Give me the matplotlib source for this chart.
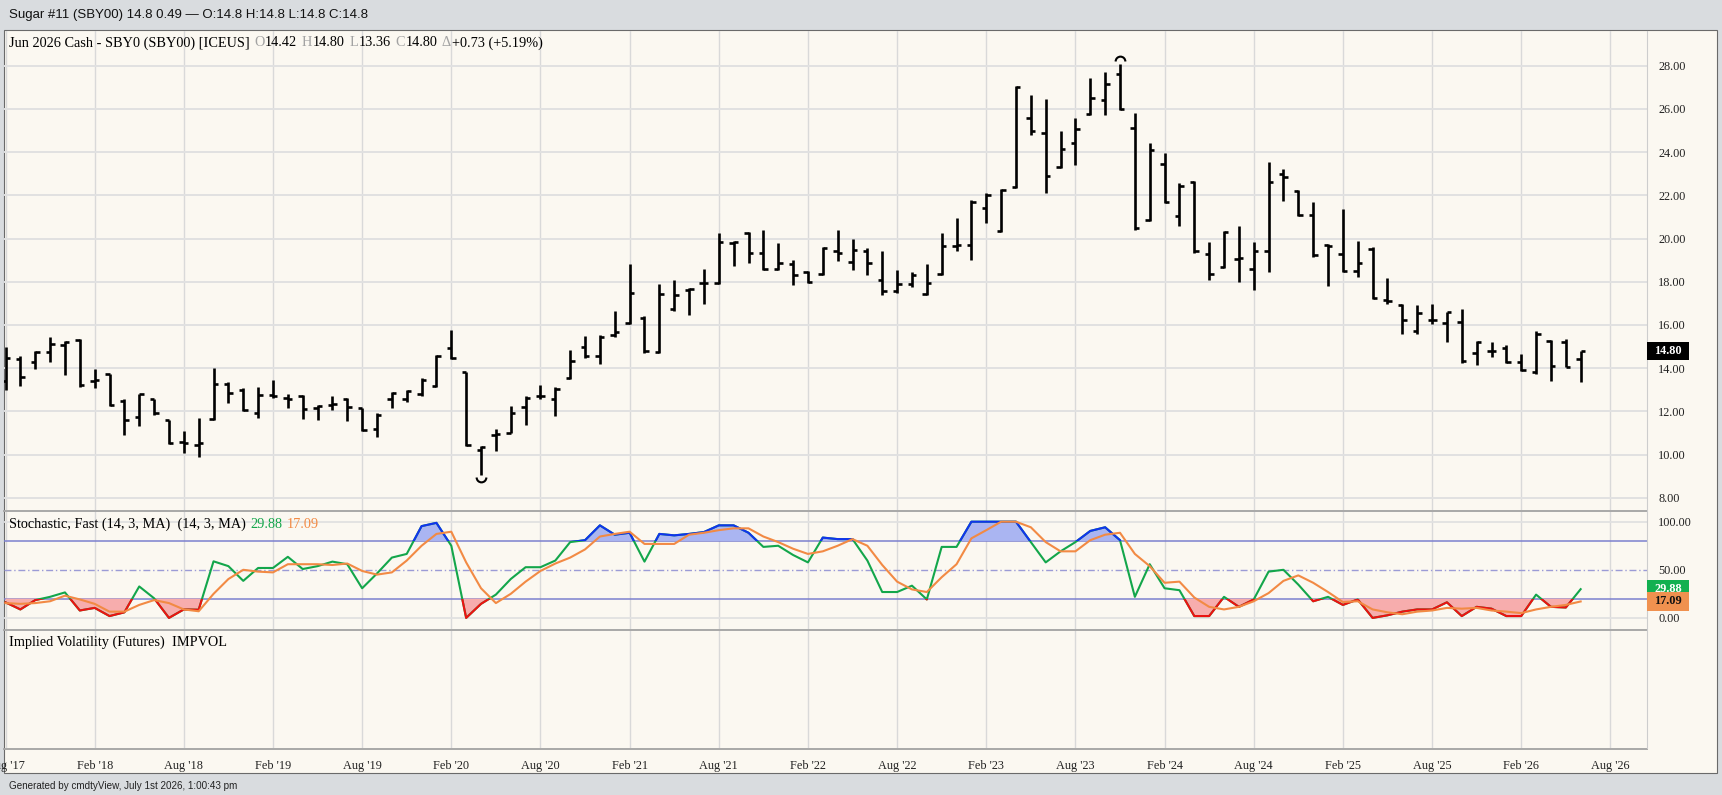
import matplotlib.pyplot as plt
from matplotlib.lines import Line2D
from matplotlib.patches import Rectangle
from matplotlib.path import Path
import numpy as np
import pandas as pd

# monthly bars, Aug 2017 .. Jun 2026
months = pd.period_range('2017-08', '2026-06', freq='M')

opens = [
    13.4, 14.4, 14.3, 14.75, 15.05, 15.3, 13.4, 13.72, 12.5, 11.75,
    12.55, 11.6, 10.6, 10.45, 11.65, 13.25, 13.0, 11.9, 12.75, 12.6,
    12.7, 12.15, 12.3, 12.55, 12.15, 11.2, 12.55, 12.55, 12.8, 13.15,
    14.95, 13.8, 10.2, 10.9, 11.0, 12.2, 12.7, 12.55, 13.55, 15.0,
    14.55, 15.55, 16.1, 16.3, 14.75, 16.75, 17.6, 17.95, 17.95, 19.8,
    20.25, 19.35, 18.6, 18.8, 18.45, 18.35, 19.4, 18.9, 19.4, 18.1,
    17.55, 17.9, 17.45, 18.35, 19.65, 19.7, 21.4, 20.35, 22.4, 25.6,
    24.9, 23.3, 24.4, 25.75, 26.4, 27.6, 25.1, 20.85, 23.45, 21.05,
    22.6, 19.3, 18.7, 19.05, 18.6, 19.4, 23.0, 22.2, 21.1, 19.7,
    19.3, 18.5, 19.5, 17.15, 16.9, 15.7, 16.25, 16.1, 16.15, 14.7,
    14.8, 14.95, 14.3, 13.8, 15.25, 15.2, 14.42]
highs = [
    14.96, 14.58, 14.8, 15.43, 15.25, 15.35, 13.95, 13.75, 12.55, 12.82,
    12.57, 11.62, 11.08, 11.7, 14.0, 13.37, 13.08, 13.13, 13.43, 12.82,
    12.74, 12.28, 12.7, 12.62, 12.17, 11.92, 12.91, 13.0, 13.54, 14.62,
    15.75, 13.83, 10.4, 11.2, 12.23, 12.69, 13.2, 13.13, 14.85, 15.5,
    15.55, 16.65, 18.8, 16.4, 17.9, 18.1, 17.7, 18.6, 20.25, 19.9,
    20.3, 20.4, 19.8, 19.0, 18.5, 19.6, 20.4, 20.0, 19.55, 19.4,
    18.55, 18.45, 18.8, 20.25, 20.95, 21.78, 22.1, 22.3, 27.05, 26.65,
    26.45, 25.0, 25.6, 27.45, 27.7, 28.1, 25.8, 24.4, 23.95, 22.55,
    22.65, 19.85, 20.35, 20.6, 19.85, 23.55, 23.2, 22.25, 21.7, 19.75,
    21.35, 19.9, 19.6, 18.15, 16.95, 16.9, 16.95, 16.62, 16.75, 15.25,
    15.2, 15.05, 14.65, 15.7, 15.3, 15.35, 14.8]
lows = [
    13.0, 13.18, 13.95, 14.28, 13.7, 13.12, 13.1, 12.25, 10.92, 11.3,
    11.85, 10.5, 10.08, 9.9, 11.6, 12.4, 12.0, 11.7, 12.62, 12.14,
    11.66, 11.6, 12.05, 11.57, 11.1, 10.81, 12.14, 12.45, 12.7, 13.13,
    14.4, 10.4, 9.05, 10.15, 10.98, 11.37, 12.55, 11.8, 13.5, 14.45,
    14.2, 15.45, 16.05, 14.7, 14.7, 16.65, 16.45, 16.95, 17.9, 18.75,
    18.85, 18.55, 18.55, 17.85, 17.95, 18.3, 18.95, 18.55, 18.3, 17.4,
    17.5, 17.75, 17.4, 18.3, 19.4, 19.0, 20.7, 20.3, 22.35, 24.8,
    22.1, 23.25, 23.4, 25.7, 25.7, 25.95, 20.4, 20.8, 21.65, 20.6,
    19.35, 18.1, 18.65, 18.0, 17.6, 18.45, 21.75, 21.05, 19.15, 17.8,
    18.45, 18.2, 17.2, 16.95, 15.6, 15.6, 16.05, 15.2, 14.25, 14.15,
    14.5, 14.25, 13.85, 13.75, 13.42, 14.05, 13.36]
closes = [
    14.45, 13.6, 14.75, 15.1, 15.2, 13.2, 13.45, 12.3, 11.6, 12.8,
    11.9, 10.55, 10.55, 10.55, 13.25, 12.85, 12.05, 12.75, 12.7, 12.55,
    12.1, 12.25, 12.35, 12.2, 11.15, 11.85, 12.85, 12.95, 13.45, 14.55,
    14.45, 10.45, 10.35, 10.95, 11.9, 12.6, 12.7, 13.05, 14.35, 14.55,
    15.45, 15.65, 17.5, 14.8, 17.45, 17.4, 17.65, 17.95, 19.85, 19.85,
    19.35, 18.6, 18.85, 18.3, 18.0, 19.55, 19.35, 19.45, 18.85, 17.55,
    17.9, 18.3, 17.95, 19.65, 19.7, 21.7, 22.0, 22.25, 27.0, 25.0,
    22.9, 24.15, 25.05, 26.5, 27.15, 26.0, 20.5, 24.1, 21.7, 22.45,
    19.4, 18.35, 20.3, 19.1, 19.4, 22.6, 22.85, 21.1, 19.25, 19.65,
    18.5, 18.85, 17.25, 17.1, 16.25, 16.55, 16.25, 16.6, 14.35, 15.2,
    14.8, 14.3, 13.9, 15.6, 14.1, 14.07, 14.8]

# Stochastic fast %K and its 3-bar MA
stoch_k = [
    16.2, 8.8, 18.5, 21.9, 26.5, 7.7, 10.4, 1.9, 5.8, 32.7,
    20.4, 0.0, 8.8, 8.5, 58.8, 53.8, 38.5, 51.9, 51.9, 63.5,
    50.8, 53.8, 58.5, 55.8, 30.8, 46.2, 62.7, 66.5, 95.4, 98.8,
    75.0, 0.0, 14.6, 24.2, 40.4, 52.7, 52.7, 59.6, 78.8, 80.8,
    96.2, 86.5, 88.5, 58.5, 87.3, 85.8, 87.3, 89.2, 96.2, 96.2,
    88.5, 73.8, 75.0, 65.4, 57.7, 83.5, 81.9, 81.9, 59.6, 26.9,
    26.9, 33.5, 19.2, 73.8, 73.8, 100.0, 100.0, 100.0, 100.0, 78.8,
    57.7, 69.2, 78.8, 90.4, 94.2, 80.8, 21.9, 55.8, 30.8, 28.8,
    1.9, 1.9, 21.9, 11.5, 19.2, 48.1, 50.0, 34.6, 17.3, 21.9,
    13.5, 19.2, 0.0, 2.7, 6.5, 8.8, 8.8, 16.2, 1.9, 11.5,
    9.6, 1.9, 1.9, 24.2, 11.5, 10.8, 29.88]
stoch_d = [
    15.4, 14.6, 15.4, 17.3, 23.1, 19.2, 14.6, 6.5, 6.5, 13.5,
    18.5, 15.4, 8.8, 6.9, 25.0, 40.4, 50.0, 48.1, 47.3, 55.8,
    55.8, 55.8, 55.0, 56.5, 48.8, 45.0, 47.3, 59.6, 75.0, 87.3,
    89.6, 57.7, 30.8, 15.4, 25.0, 37.7, 48.8, 56.5, 62.7, 71.2,
    84.6, 87.3, 89.6, 76.9, 76.9, 76.9, 86.5, 88.5, 91.2, 93.1,
    93.1, 84.6, 78.8, 71.9, 66.5, 69.2, 75.0, 81.9, 75.0, 55.0,
    37.7, 29.6, 26.9, 42.3, 55.8, 82.7, 91.2, 100.0, 100.0, 94.2,
    78.8, 69.2, 69.2, 80.8, 86.5, 88.5, 66.5, 53.8, 36.5, 37.7,
    21.2, 11.5, 8.8, 11.5, 17.3, 25.8, 38.5, 44.2, 36.5, 26.9,
    16.5, 17.3, 8.8, 5.8, 3.8, 6.5, 7.7, 10.4, 9.6, 10.4,
    7.7, 6.5, 5.0, 8.8, 11.5, 13.5, 17.09]

x_labels = ["Aug '17", "Feb '18", "Aug '18", "Feb '19", "Aug '19", "Feb '20",
            "Aug '20", "Feb '21", "Aug '21", "Feb '22", "Aug '22", "Feb '23",
            "Aug '23", "Feb '24", "Aug '24", "Feb '25", "Aug '25", "Feb '26",
            "Aug '26"]
price_ticks = [8, 10, 12, 14, 16, 18, 20, 22, 24, 26, 28]
stoch_ticks = [0, 50, 100]

title = 'Sugar #11 (SBY00) 14.8 0.49 \u2014 O:14.8 H:14.8 L:14.8 C:14.8'
footer = 'Generated by cmdtyView, July 1st 2026, 1:00:43 pm'

W, H = 1722, 795
SERIF = 'Liberation Serif'
SANS = 'Liberation Sans'
CREAM = '#fbf8f1'
GRID = '#e1e1e1'
VGRID = '#d9d9d9'
GREEN = '#13a64b'
ORANGE = '#f28a44'
GREYTXT = '#a3a3a3'

x = np.arange(len(months))
o, h, l, c = map(np.asarray, (opens, highs, lows, closes))
k = np.asarray(stoch_k)
d = np.asarray(stoch_d)
tick_pos = [(pd.to_datetime(s, format="%b '%y").to_period('M') - months[0]).n
            for s in x_labels]

# pixel layout of the original screenshot
X0_PX, PX_PER_MONTH = 5.5, 14.86      # x pixel of first bar, pixels per bar
PY_28, PX_PER_UNIT = 65.7, 21.6       # price panel: y pixel of 28.00, px per 1.00
PY_S0, PX_PER_S = 617.9, 0.962        # stochastic panel: y pixel of 0, px per 1


def fx(px):
    return px / W


def fy(py):
    return 1 - py / H


fig = plt.figure(figsize=(W / 100, H / 100), dpi=100)
fig.patch.set_facecolor('#d9dcdf')
fig.patches.append(Rectangle((fx(4), fy(773)), fx(1717) - fx(4), fy(30) - fy(773),
                             transform=fig.transFigure, facecolor=CREAM,
                             edgecolor='#6a6a6a', lw=0.8, zorder=-5))


def panel(top, bottom, left=4, right=1647):
    ax = fig.add_axes([fx(left), fy(bottom), fx(right) - fx(left), fy(top) - fy(bottom)])
    ax.set_facecolor('none')
    for s in ax.spines.values():
        s.set_visible(False)
    ax.set_xlim((left - X0_PX) / PX_PER_MONTH, (right - X0_PX) / PX_PER_MONTH)
    for p in tick_pos:
        ax.axvline(p, color=VGRID, lw=1.0, zorder=0)
    ax.tick_params(length=0, labelsize=8.8, labelfontfamily=SERIF, colors='#222222')
    ax.set_xticks([])
    return ax


# ---- price panel ----
ax_p = panel(31, 510)
ax_p.set_ylim(28 - (510 - PY_28) / PX_PER_UNIT, 28 + (PY_28 - 31) / PX_PER_UNIT)
for v in price_ticks:
    ax_p.axhline(v, color=GRID, lw=1.4, zorder=0)
ax_p.yaxis.tick_right()
ax_p.set_yticks(price_ticks)
ax_p.set_yticklabels([f'{v:.2f}' for v in price_ticks])
ax_p.tick_params(axis='y', pad=8)

ax_p.vlines(x, l, h, color='black', lw=1.9, capstyle='butt')
ax_p.hlines(o, x - 0.3, x, color='black', lw=1.9, capstyle='butt')
ax_p.hlines(c, x, x + 0.3, color='black', lw=1.9, capstyle='butt')

i_hi = int(np.argmax(h))
i_lo = int(np.argmin(l))
ax_p.plot(x[i_hi], h[i_hi] + 0.1, marker=Path.arc(0, 180), ms=7,
          mfc='none', mec='black', mew=1.5)
ax_p.plot(x[i_lo], l[i_lo] - 0.1, marker=Path.arc(180, 360), ms=7,
          mfc='none', mec='black', mew=1.5)

# ---- stochastic panel ----
ax_s = panel(511, 629)
ax_s.set_ylim((PY_S0 - 629) / PX_PER_S, (PY_S0 - 511) / PX_PER_S)
for v in (0, 100):
    ax_s.axhline(v, color=GRID, lw=1.3, zorder=0)
ax_s.axhline(80, color='#7c80cf', lw=1.1, zorder=1)
ax_s.axhline(20, color='#7c80cf', lw=1.1, zorder=1)
ax_s.axhline(50, color='#9b9bd6', lw=1.0, ls=(0, (5, 2, 1, 2)), zorder=1)
ax_s.yaxis.tick_right()
ax_s.set_yticks(stoch_ticks)
ax_s.set_yticklabels([f'{v:.2f}' for v in stoch_ticks])
ax_s.tick_params(axis='y', pad=8)

ax_s.fill_between(x, k, 80, where=k > 80, interpolate=True, color='#aab5f2', lw=0, zorder=2)
ax_s.fill_between(x, k, 20, where=k < 20, interpolate=True, color='#f7adad', lw=0, zorder=2)
ax_s.plot(x, k, color=GREEN, lw=1.5, zorder=3)
xl = ax_s.get_xlim()
clip_hi = Rectangle((xl[0], 80), xl[1] - xl[0], 100, transform=ax_s.transData)
clip_lo = Rectangle((xl[0], -50), xl[1] - xl[0], 70, transform=ax_s.transData)
ln_hi, = ax_s.plot(x, k, color='#1133ee', lw=1.5, zorder=4)
ln_hi.set_clip_path(clip_hi)
ln_lo, = ax_s.plot(x, k, color='#ee1111', lw=1.5, zorder=4)
ln_lo.set_clip_path(clip_lo)
ax_s.plot(x, d, color=ORANGE, lw=1.5, zorder=5)

# ---- implied volatility panel (empty) ----
ax_v = panel(630, 748)
ax_v.set_ylim(0, 1)
ax_v.set_yticks([])
ax_v.set_xticks(tick_pos)
ax_v.set_xticklabels(x_labels)
ax_v.tick_params(axis='x', pad=8.5)

# panel separators and right axis line
for py in (510.5, 629.5, 748.5):
    fig.add_artist(Line2D([fx(4), fx(1647)], [fy(py), fy(py)], color='#a8a8a8', lw=1.4))
fig.add_artist(Line2D([fx(1647), fx(1647)], [fy(31), fy(748)], color='#cdcdcd', lw=0.8))


def value_box(ax, v, text, fc, tc, h_px, z):
    y_disp = ax.transData.transform((0, v))[1]
    x_disp = ax.transAxes.transform((1, 0))[0]
    fig.patches.append(Rectangle((x_disp / W, (y_disp - h_px / 2) / H), 42 / W, h_px / H,
                                 transform=fig.transFigure, fc=fc, ec='none', zorder=z))
    fig.text((x_disp + 21) / W, y_disp / H, text, color=tc, ha='center', va='center',
             fontsize=8.8, family=SERIF, weight='bold', zorder=z + 1)


value_box(ax_p, c[-1], f'{c[-1]:.2f}', 'black', 'white', 18, 10)
value_box(ax_s, k[-1], f'{k[-1]:.2f}', '#12b050', 'white', 19, 10)
value_box(ax_s, d[-1], f'{d[-1]:.2f}', '#f0914f', '#111111', 19, 12)


def rich_text(x_px, y_px, parts, size=10.3, gap=3.6):
    r = fig.canvas.get_renderer()
    for s, col in parts:
        if s == ' ':
            x_px += gap
            continue
        t = fig.text(fx(x_px), fy(y_px), s, color=col, family=SERIF, size=size,
                     va='center', ha='left')
        x_px += t.get_window_extent(r).width + 0.8


chg = c[-1] - c[-2]
rich_text(9, 43, [
    ('Jun 2026 Cash - SBY0 (SBY00) [ICEUS]', 'black'), (' ', None),
    ('O', GREYTXT), (f'{o[-1]:.2f}', 'black'), (' ', None),
    ('H', GREYTXT), (f'{h[-1]:.2f}', 'black'), (' ', None),
    ('L', GREYTXT), (f'{l[-1]:.2f}', 'black'), (' ', None),
    ('C', GREYTXT), (f'{c[-1]:.2f}', 'black'), (' ', None),
    ('\u0394', GREYTXT), (f'{chg:+.2f} ({chg / c[-2] * 100:+.2f}%)', 'black')])
rich_text(9, 524, [
    ('Stochastic, Fast (14, 3, MA)  (14, 3, MA)', 'black'), (' ', None),
    (f'{k[-1]:.2f}', GREEN), (' ', None), (f'{d[-1]:.2f}', ORANGE)])
rich_text(9, 642, [('Implied Volatility (Futures)  IMPVOL', 'black')])

fig.text(fx(9), fy(15), title, family=SANS, size=9.5, va='center', color='#111111')
fig.text(fx(9), fy(786), footer, family=SANS, size=7.15, va='center', color='#222222')

fig.savefig('out.png', dpi=100, facecolor=fig.get_facecolor())
